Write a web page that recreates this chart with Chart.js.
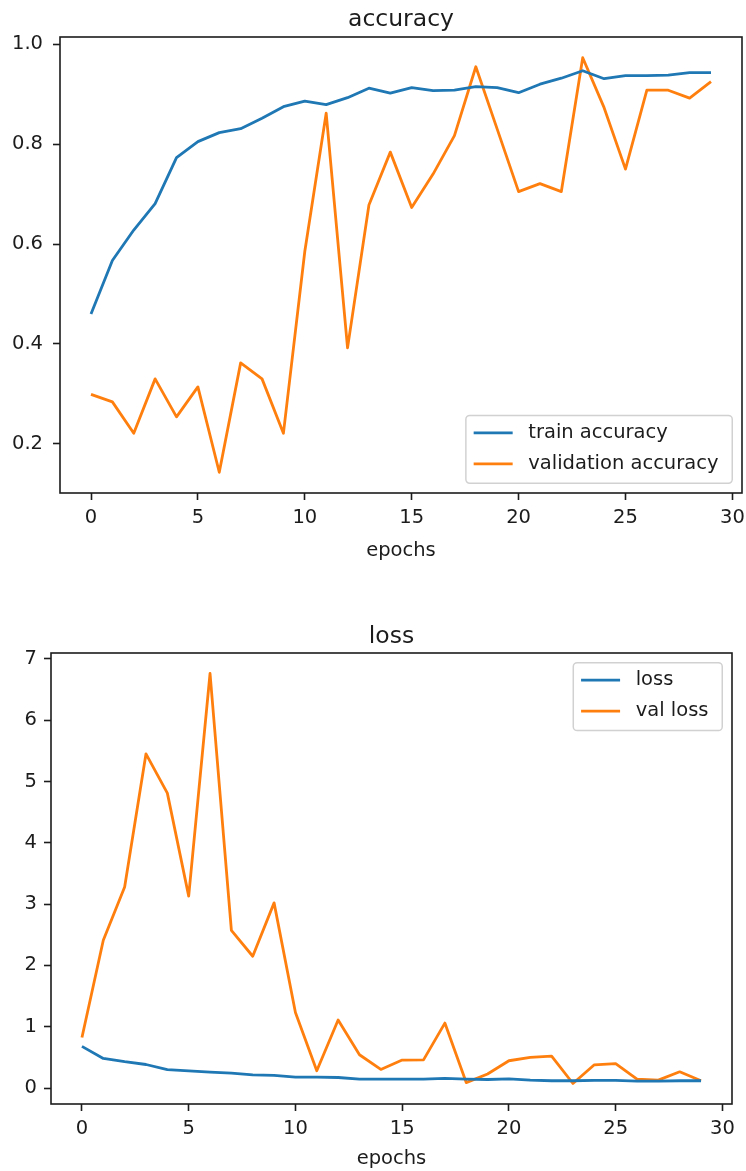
<!DOCTYPE html>
<html>
<head>
<meta charset="utf-8">
<title>accuracy / loss</title>
<script src="https://cdn.jsdelivr.net/npm/chart.js@4/dist/chart.umd.min.js"></script>
<style>
  html, body { margin: 0; padding: 0; background: #fff; }
  #wrap { position: relative; width: 746px; height: 1171px; overflow: hidden; }
  canvas { position: absolute; left: 0; }
  #accCanvas { top: 0; }
  #lossCanvas { top: 577px; }
</style>
</head>
<body>
<div id="wrap">
  <canvas id="accCanvas" width="746" height="580"></canvas>
  <canvas id="lossCanvas" width="746" height="594"></canvas>
</div>
<script>
// epochs on the x axis
const epochs = [0, 1, 2, 3, 4, 5, 6, 7, 8, 9, 10, 11, 12, 13, 14,
                15, 16, 17, 18, 19, 20, 21, 22, 23, 24, 25, 26, 27, 28, 29];

// accuracy history
const trainAcc = [0.460, 0.567, 0.628, 0.681, 0.773, 0.805, 0.823, 0.831, 0.852, 0.875,
                  0.886, 0.879, 0.893, 0.912, 0.902, 0.913, 0.907, 0.908, 0.915, 0.913,
                  0.903, 0.920, 0.932, 0.947, 0.931, 0.937, 0.937, 0.938, 0.943, 0.943];
const valAcc   = [0.299, 0.284, 0.221, 0.330, 0.254, 0.314, 0.143, 0.362, 0.330, 0.221,
                  0.585, 0.862, 0.392, 0.678, 0.784, 0.673, 0.740, 0.817, 0.955, 0.830,
                  0.705, 0.721, 0.705, 0.973, 0.873, 0.750, 0.908, 0.908, 0.892, 0.925];

// loss history
const trainLoss = [0.680, 0.483, 0.430, 0.385, 0.300, 0.280, 0.260, 0.245, 0.217, 0.206,
                   0.180, 0.180, 0.173, 0.147, 0.147, 0.147, 0.147, 0.158, 0.147, 0.140,
                   0.152, 0.130, 0.120, 0.120, 0.125, 0.125, 0.114, 0.114, 0.120, 0.120];
const valLoss   = [0.826, 2.410, 3.280, 5.450, 4.810, 3.130, 6.760, 2.570, 2.150, 3.020,
                   1.234, 0.283, 1.110, 0.544, 0.304, 0.457, 0.460, 1.060, 0.090, 0.230,
                   0.446, 0.500, 0.520, 0.075, 0.380, 0.400, 0.147, 0.130, 0.266, 0.120];

const xTicks = [0, 5, 10, 15, 20, 25, 30];

const BLUE = '#1f77b4';
const ORANGE = '#ff7f0e';
const INK = '#1c1c1c';
const FONT = '"DejaVu Sans", "Liberation Sans", sans-serif';
const FS = 19.5;

/* ---------------- helpers ---------------- */
// 5% margin on both sides, like matplotlib autoscale
function margens(...series) {
  const all = series.flat();
  const lo = Math.min(...all), hi = Math.max(...all);
  const m = (hi - lo) * 0.05;
  return { min: lo - m, max: hi + m };
}

function pontos(ys) {
  return ys.map((y, i) => ({ x: epochs[i], y }));
}

// axes frame (all four spines)
const moldura = {
  id: 'moldura',
  afterDraw(chart) {
    const { ctx, chartArea: a } = chart;
    ctx.save();
    ctx.strokeStyle = INK;
    ctx.lineWidth = 1.6;
    ctx.strokeRect(a.left, a.top, a.right - a.left, a.bottom - a.top);
    ctx.restore();
  }
};

// title centred over the plot area (not over the whole canvas)
const tituloEixos = {
  id: 'tituloEixos',
  afterDraw(chart, args, opts) {
    const { ctx, chartArea: a } = chart;
    ctx.save();
    ctx.font = `23.5px ${FONT}`;
    ctx.fillStyle = INK;
    ctx.textAlign = 'center';
    ctx.textBaseline = 'alphabetic';
    ctx.fillText(opts.text, (a.left + a.right) / 2, a.top - opts.gap);
    ctx.restore();
  }
};

// framed legend drawn inside the axes
const legendaCaixa = {
  id: 'legendaCaixa',
  afterDraw(chart, args, opts) {
    const { ctx, chartArea: a } = chart;
    const sets = chart.data.datasets;
    ctx.save();
    ctx.font = `${FS}px ${FONT}`;
    const textW = Math.max(...sets.map(d => ctx.measureText(d.label).width));
    const pad = 0.4 * FS, handle = 2 * FS, gap = 0.8 * FS;
    const rowH = 1.09 * FS, space = 0.5 * FS, inset = 0.5 * FS;
    const w = 2 * pad + handle + gap + textW + 6;
    const h = 2 * pad + sets.length * rowH + (sets.length - 1) * space;
    const x = a.right - inset - w;
    const y = opts.corner === 'upper' ? a.top + inset : a.bottom - inset - h;

    ctx.beginPath();
    ctx.roundRect(x, y, w, h, 0.2 * FS);
    ctx.fillStyle = 'rgba(255,255,255,0.8)';
    ctx.fill();
    ctx.strokeStyle = 'rgba(204,204,204,0.9)';
    ctx.lineWidth = 1.5;
    ctx.stroke();

    sets.forEach((d, i) => {
      const cy = y + pad + rowH / 2 + i * (rowH + space) - 1;
      ctx.beginPath();
      ctx.moveTo(x + pad, cy);
      ctx.lineTo(x + pad + handle, cy);
      ctx.strokeStyle = d.borderColor;
      ctx.lineWidth = d.borderWidth;
      ctx.stroke();
      ctx.fillStyle = INK;
      ctx.textBaseline = 'middle';
      ctx.textAlign = 'left';
      ctx.fillText(d.label, x + pad + handle + gap, cy);
    });
    ctx.restore();
  }
};

/* ---------------- chart builder ---------------- */
function criarGrafico(id, cfg) {
  const yr = margens(...cfg.series.map(s => s.data));
  const tickStyle = { color: INK, font: { family: FONT, size: FS } };

  return new Chart(document.getElementById(id), {
    type: 'line',
    data: {
      datasets: cfg.series.map(s => ({
        label: s.label,
        data: pontos(s.data),
        borderColor: s.color,
        backgroundColor: s.color,
        borderWidth: 2.8,
        pointRadius: 0,
        tension: 0,
        borderJoinStyle: 'round',
        fill: false
      }))
    },
    options: {
      responsive: false,
      animation: false,
      events: [],
      layout: { padding: cfg.padding },
      plugins: {
        legend: { display: false },
        tooltip: { enabled: false },
        title: { display: false },
        tituloEixos: { text: cfg.title, gap: cfg.titleGap },
        legendaCaixa: { corner: cfg.legendCorner }
      },
      scales: {
        x: {
          type: 'linear',
          min: -1.45,
          max: 30.45,
          // keep the plot edges fixed; end labels may hang past them
          afterFit: s => { s.height = cfg.xHeight; s.paddingLeft = 0; s.paddingRight = 0; },
          afterBuildTicks: s => { s.ticks = xTicks.map(v => ({ value: v })); },
          ticks: { ...tickStyle, padding: 6, maxRotation: 0, callback: v => String(v) },
          grid: { drawOnChartArea: false, drawTicks: true, tickLength: 7, tickWidth: 1.6, tickColor: INK },
          border: { display: false },
          title: {
            display: true,
            text: 'epochs',
            color: INK,
            font: { family: FONT, size: FS, lineHeight: 1.2 },
            padding: { top: 0, bottom: 0 }
          }
        },
        y: {
          type: 'linear',
          min: yr.min,
          max: yr.max,
          afterFit: s => { s.width = cfg.yWidth; s.paddingTop = 0; s.paddingBottom = 0; },
          ticks: {
            ...tickStyle,
            padding: cfg.yPad,
            stepSize: cfg.yStep,
            includeBounds: false,
            callback: v => v.toFixed(cfg.yDec)
          },
          grid: { drawOnChartArea: false, drawTicks: true, tickLength: 7, tickWidth: 1.6, tickColor: INK },
          border: { display: false }
        }
      }
    },
    plugins: [moldura, tituloEixos, legendaCaixa]
  });
}

criarGrafico('accCanvas', {
  title: 'accuracy',
  series: [
    { label: 'train accuracy', data: trainAcc, color: BLUE },
    { label: 'validation accuracy', data: valAcc, color: ORANGE }
  ],
  padding: { left: 0, right: 4, top: 37, bottom: 17 },
  titleGap: 11,
  xHeight: 70,
  yWidth: 60,
  yPad: 10,
  yStep: 0.2,
  yDec: 1,
  legendCorner: 'lower'
});

criarGrafico('lossCanvas', {
  title: 'loss',
  series: [
    { label: 'loss', data: trainLoss, color: BLUE },
    { label: 'val loss', data: valLoss, color: ORANGE }
  ],
  padding: { left: 0, right: 14, top: 76, bottom: 0 },
  titleGap: 10,
  xHeight: 67,
  yWidth: 51,
  yPad: 7,
  yStep: 1,
  yDec: 0,
  legendCorner: 'upper'
});
</script>
</body>
</html>
